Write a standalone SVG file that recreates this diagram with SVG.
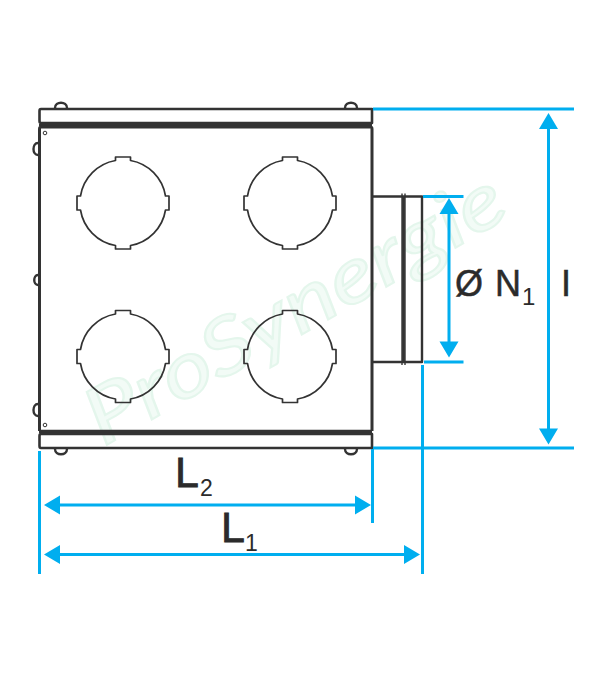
<svg xmlns="http://www.w3.org/2000/svg" width="609" height="690" viewBox="0 0 609 690">
<style>
.k{fill:none;stroke:#333;stroke-linejoin:round}
.b{fill:none;stroke:#00aeef;stroke-width:3}
.h{fill:#00aeef}
.t{font-family:"Liberation Sans",Arial,sans-serif;fill:#2b2b2b}
.wm{font-family:"Lato",sans-serif;font-style:italic;font-size:78px;fill:#f2fbf6;stroke:#e4f6ec;stroke-width:2}
</style>
<defs>
<path id="hole" d="M-7.500-42.500V-46H7.500V-42.500A43 43 0 0 1 42.500-7H46V7H42.500A43 43 0 0 1 7.500 42.500V46H-7.500V42.500A43 43 0 0 1-42.500 7H-46V-7H-42.500A43 43 0 0 1-7.500-42.500Z" class="k" stroke-width="1.700"/>
</defs>
<rect width="609" height="690" fill="#fff"/>
<text class="wm" transform="translate(103 447) rotate(-29.500)" textLength="470" lengthAdjust="spacingAndGlyphs">ProSynergie</text>
<g id="enclosure">
<g class="k" stroke-width="2.400">
<path d="M55 108C55 101 67 101 67 108M345 108C345 101 357 101 357 108"/>
<path d="M55 449C55 456 67 456 67 449M345 449C345 456 357 456 357 449"/>
<path d="M38 143C32 143 32 155 38 155M38 275C33 275 33 285 38 285M38 404C32 404 32 416 38 416"/>
</g>
<path class="k" stroke-width="2.600" d="M41 109H372V123H41Q39.500 123 39.500 121V111Q39.500 109 41 109Z"/>
<path class="k" stroke-width="2" d="M39 125H372"/>
<path class="k" stroke-width="3" d="M39.500 431V129Q39.500 127 41 127H370.500Q372 127 372 129V431"/>
<path class="k" stroke-width="3.400" d="M39 431.500H372"/>
<path class="k" stroke-width="2.600" d="M41 434H372V448H41Q39.500 448 39.500 446V436Q39.500 434 41 434Z"/>
<circle class="k" cx="45" cy="133" r="1.800" stroke-width="1"/>
<circle class="k" cx="45" cy="425" r="1.800" stroke-width="1"/>
</g>
<g id="hole-1"><use href="#hole" x="123" y="203"/></g>
<g id="hole-2"><use href="#hole" x="290" y="203"/></g>
<g id="hole-3"><use href="#hole" x="123" y="356.500"/></g>
<g id="hole-4"><use href="#hole" x="290" y="356.500"/></g>
<g id="duct">
<path class="k" stroke-width="2.400" d="M372 196.500H422V362H372"/>
<path class="k" stroke-width="1.400" d="M402 193.500V365M405 193.500V365"/>
<path stroke="#333" stroke-width="2.800" d="M403.500 196V362"/>
</g>
<g id="connectors">
<path class="b" d="M373 109H574M373 448H574M423 196.500H463.500M424 362H463.500"/>
<path class="b" d="M548.500 125V432M449 210V345"/>
<path class="b" d="M372.500 449V523M422.500 365V574M39.500 451V574"/>
<path class="b" d="M56 505H358M56 554.500H408"/>
<path class="h" d="M548.500 113L558 129H539ZM548.500 444.500L539 428.500H558ZM449 198L458.500 214H439.500ZM449 357.500L439.500 341.500H458.500Z"/>
<path class="h" d="M44 505L60 495.500V514.500ZM371 505L355 495.500V514.500ZM44 554.500L60 545V564ZM420 554.500L404 545V564Z"/>
</g>
<g id="labels">
<text class="t" x="175" y="487" font-size="43" stroke="#2b2b2b" stroke-width=".8">L</text>
<text class="t" x="200" y="496" font-size="23">2</text>
<text class="t" x="221" y="542" font-size="43" stroke="#2b2b2b" stroke-width=".8">L</text>
<text class="t" x="245" y="551" font-size="23">1</text>
<text class="t" x="455" y="296" font-size="36" stroke="#2b2b2b" stroke-width=".5">Ø</text>
<text class="t" x="495" y="296" font-size="36" stroke="#2b2b2b" stroke-width=".5">N</text>
<text class="t" x="522" y="305" font-size="24">1</text>
<text class="t" x="561" y="296" font-size="36" stroke="#2b2b2b" stroke-width=".5">I</text>
</g>
</svg>
